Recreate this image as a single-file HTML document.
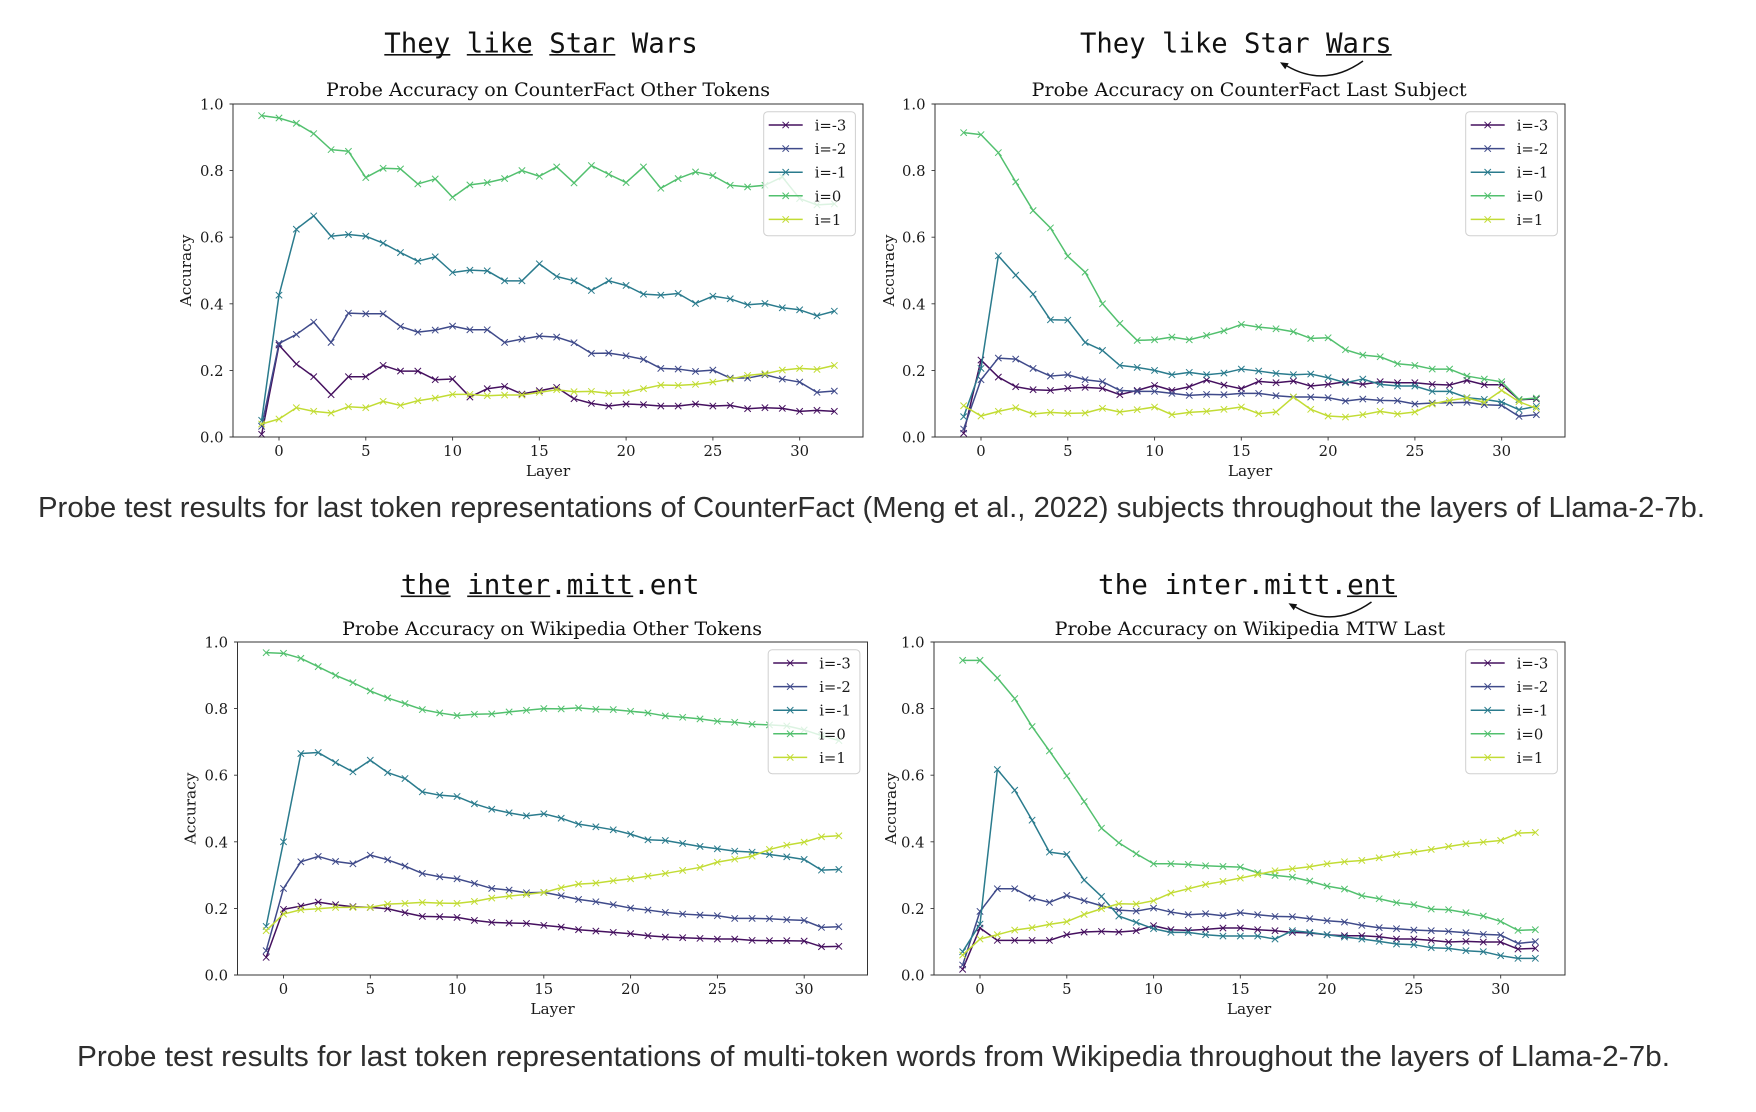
<!DOCTYPE html>
<html>
<head>
<meta charset="utf-8">
<style>
html,body{margin:0;padding:0;background:#fff;}
svg{display:block;}
.tk{font-family:"DejaVu Serif","Liberation Serif",serif;font-size:14.8px;fill:#1a1a1a;}
.lb{font-family:"DejaVu Serif","Liberation Serif",serif;font-size:15.3px;fill:#1a1a1a;}
.tt{font-family:"DejaVu Serif","Liberation Serif",serif;font-size:18.5px;fill:#111;}
.hd{font-family:"DejaVu Sans Mono","Liberation Mono",monospace;font-size:27.4px;fill:#111;}
.cap{font-family:"Liberation Sans","DejaVu Sans",sans-serif;font-size:29px;fill:#2e2e2e;}
.lg{font-family:"DejaVu Serif","Liberation Serif",serif;font-size:14.8px;fill:#1a1a1a;}
.s{fill:none;stroke-width:4.5;stroke-linejoin:round;}
</style>
</head>
<body>
<svg width="1756" height="1112" viewBox="0 0 1756 1112" xmlns="http://www.w3.org/2000/svg">
<defs>
<marker id="m0" markerUnits="userSpaceOnUse" markerWidth="30" markerHeight="30" overflow="visible" refX="0" refY="0"><path d="M-9.6,-9.6L9.6,9.6M-9.6,9.6L9.6,-9.6" stroke="#45105f" stroke-width="3" fill="none"/></marker>
<marker id="m1" markerUnits="userSpaceOnUse" markerWidth="30" markerHeight="30" overflow="visible" refX="0" refY="0"><path d="M-9.6,-9.6L9.6,9.6M-9.6,9.6L9.6,-9.6" stroke="#3f4a8a" stroke-width="3" fill="none"/></marker>
<marker id="m2" markerUnits="userSpaceOnUse" markerWidth="30" markerHeight="30" overflow="visible" refX="0" refY="0"><path d="M-9.6,-9.6L9.6,9.6M-9.6,9.6L9.6,-9.6" stroke="#2a7b8d" stroke-width="3" fill="none"/></marker>
<marker id="m3" markerUnits="userSpaceOnUse" markerWidth="30" markerHeight="30" overflow="visible" refX="0" refY="0"><path d="M-9.6,-9.6L9.6,9.6M-9.6,9.6L9.6,-9.6" stroke="#52c06e" stroke-width="3" fill="none"/></marker>
<marker id="m4" markerUnits="userSpaceOnUse" markerWidth="30" markerHeight="30" overflow="visible" refX="0" refY="0"><path d="M-9.6,-9.6L9.6,9.6M-9.6,9.6L9.6,-9.6" stroke="#c2dc34" stroke-width="3" fill="none"/></marker>
</defs>

<!-- ============ Headings ============ -->
<text class="hd" x="384.3" y="52.5" textLength="313.4" lengthAdjust="spacingAndGlyphs">They like Star Wars</text>
<rect x="384.3" y="54" width="66" height="1.6" fill="#111"/>
<rect x="466.8" y="54" width="66" height="1.6" fill="#111"/>
<rect x="549.3" y="54" width="66" height="1.6" fill="#111"/>

<text class="hd" x="1080" y="52.5" textLength="311.7" lengthAdjust="spacingAndGlyphs">They like Star Wars</text>
<rect x="1326" y="54" width="65.7" height="1.6" fill="#111"/>
<path d="M1363,61 Q1325,88 1287,66" fill="none" stroke="#111" stroke-width="1.5"/>
<path d="M1280,62.3 L1288.7,63.3 L1285.2,69.3 Z" fill="#111"/>

<text class="hd" x="400.8" y="594" textLength="298.7" lengthAdjust="spacingAndGlyphs">the inter.mitt.ent</text>
<rect x="400.8" y="595.5" width="49.8" height="1.6" fill="#111"/>
<rect x="467.2" y="595.5" width="83" height="1.6" fill="#111"/>
<rect x="566.8" y="595.5" width="66.4" height="1.6" fill="#111"/>

<text class="hd" x="1098" y="594" textLength="299" lengthAdjust="spacingAndGlyphs">the inter.mitt.ent</text>
<rect x="1347" y="595.5" width="50" height="1.6" fill="#111"/>
<path d="M1371.5,602 Q1333.5,629 1295.5,607" fill="none" stroke="#111" stroke-width="1.5"/>
<path d="M1288.5,603.3 L1297.2,604.3 L1293.7,610.3 Z" fill="#111"/>

<!-- ============ Captions ============ -->
<text class="cap" x="38" y="517" textLength="1667" lengthAdjust="spacingAndGlyphs">Probe test results for last token representations of CounterFact (Meng et al., 2022) subjects throughout the layers of Llama-2-7b.</text>
<text class="cap" x="77" y="1066" textLength="1593" lengthAdjust="spacingAndGlyphs">Probe test results for last token representations of multi-token words from Wikipedia throughout the layers of Llama-2-7b.</text>

<!-- ============ Chart TL ============ -->
<g transform="translate(233,104)">
<text class="tt" x="93" y="-8" textLength="444" lengthAdjust="spacingAndGlyphs">Probe Accuracy on CounterFact Other Tokens</text>
<g transform="translate(46,333) scale(0.333,-0.333)">
<polyline class="s" stroke="#45105f" marker-start="url(#m0)" marker-mid="url(#m0)" marker-end="url(#m0)" points="-52.1,8 0,276 52.1,219 104.2,181 156.4,127 208.5,181 260.6,181 312.7,215 364.8,198 416.9,198 469.1,172 521.2,174 573.3,120 625.4,145 677.5,152 729.6,129 781.8,139 833.9,149 886,115 938.1,101 990.2,93 1042.3,99 1094.5,97 1146.6,93 1198.7,93 1250.8,99 1302.9,93 1355,95 1407.2,85 1459.3,88 1511.4,86 1563.5,77 1615.6,80 1667.7,77"/>
<polyline class="s" stroke="#3f4a8a" marker-start="url(#m1)" marker-mid="url(#m1)" marker-end="url(#m1)" points="-52.1,32 0,281 52.1,308 104.2,345 156.4,284 208.5,372 260.6,370 312.7,370 364.8,332 416.9,315 469.1,321 521.2,333 573.3,322 625.4,322 677.5,284 729.6,294 781.8,303 833.9,300 886,283 938.1,251 990.2,252 1042.3,244 1094.5,233 1146.6,206 1198.7,204 1250.8,197 1302.9,201 1355,177 1407.2,177 1459.3,187 1511.4,174 1563.5,165 1615.6,134 1667.7,138"/>
<polyline class="s" stroke="#2a7b8d" marker-start="url(#m2)" marker-mid="url(#m2)" marker-end="url(#m2)" points="-52.1,50 0,426 52.1,624 104.2,664 156.4,603 208.5,608 260.6,603 312.7,582 364.8,554 416.9,528 469.1,541 521.2,494 573.3,501 625.4,499 677.5,469 729.6,469 781.8,520 833.9,482 886,469 938.1,440 990.2,469 1042.3,455 1094.5,429 1146.6,426 1198.7,431 1250.8,401 1302.9,423 1355,415 1407.2,397 1459.3,401 1511.4,388 1563.5,382 1615.6,364 1667.7,378"/>
<polyline class="s" stroke="#52c06e" marker-start="url(#m3)" marker-mid="url(#m3)" marker-end="url(#m3)" points="-52.1,965 0,958 52.1,942 104.2,911 156.4,863 208.5,858 260.6,779 312.7,807 364.8,805 416.9,760 469.1,775 521.2,720 573.3,757 625.4,764 677.5,776 729.6,800 781.8,783 833.9,811 886,763 938.1,815 990.2,789 1042.3,764 1094.5,811 1146.6,747 1198.7,776 1250.8,796 1302.9,785 1355,756 1407.2,751 1459.3,756 1511.4,781 1563.5,716 1615.6,697 1667.7,700"/>
<polyline class="s" stroke="#c2dc34" marker-start="url(#m4)" marker-mid="url(#m4)" marker-end="url(#m4)" points="-52.1,39 0,54 52.1,88 104.2,77 156.4,72 208.5,91 260.6,88 312.7,107 364.8,95 416.9,109 469.1,117 521.2,128 573.3,128 625.4,124 677.5,126 729.6,126 781.8,134 833.9,142 886,136 938.1,137 990.2,131 1042.3,133 1094.5,145 1146.6,156 1198.7,155 1250.8,158 1302.9,165 1355,174 1407.2,185 1459.3,190 1511.4,201 1563.5,206 1615.6,203 1667.7,215"/>
</g>
<rect x="0" y="0" width="630" height="333" fill="none" stroke="#333" stroke-width="1"/>
<g stroke="#333" stroke-width="0.9">
<path d="M-3.5,333H0M-3.5,266.4H0M-3.5,199.8H0M-3.5,133.2H0M-3.5,66.6H0M-3.5,0H0"/>
<path d="M46,333V336.5M132.8,333V336.5M219.6,333V336.5M306.3,333V336.5M393.1,333V336.5M479.9,333V336.5M566.7,333V336.5"/>
</g>
<g class="tk" text-anchor="end">
<text x="-9.5" y="338.5">0.0</text><text x="-9.5" y="271.9">0.2</text><text x="-9.5" y="205.3">0.4</text><text x="-9.5" y="138.7">0.6</text><text x="-9.5" y="72.1">0.8</text><text x="-9.5" y="5.5">1.0</text>
</g>
<g class="tk" text-anchor="middle">
<text x="46" y="352">0</text><text x="132.8" y="352">5</text><text x="219.6" y="352">10</text><text x="306.3" y="352">15</text><text x="393.1" y="352">20</text><text x="479.9" y="352">25</text><text x="566.7" y="352">30</text>
</g>
<text class="lb" x="315" y="372" text-anchor="middle">Layer</text>
<text class="lb" transform="translate(-42,166.5) rotate(-90)" text-anchor="middle">Accuracy</text>
<rect x="530.7" y="7.7" width="91.7" height="124" rx="4" fill="#fff" fill-opacity="0.8" stroke="#d0d0d0" stroke-width="1"/>
<g stroke-width="1.5">
<path d="M535.7,21H569.7" stroke="#45105f"/><path d="M549.5,17.8L555.9,24.2M549.5,24.2L555.9,17.8" stroke="#45105f" stroke-width="1"/>
<path d="M535.7,44.6H569.7" stroke="#3f4a8a"/><path d="M549.5,41.4L555.9,47.8M549.5,47.8L555.9,41.4" stroke="#3f4a8a" stroke-width="1"/>
<path d="M535.7,68.2H569.7" stroke="#2a7b8d"/><path d="M549.5,65L555.9,71.4M549.5,71.4L555.9,65" stroke="#2a7b8d" stroke-width="1"/>
<path d="M535.7,91.8H569.7" stroke="#52c06e"/><path d="M549.5,88.6L555.9,95M549.5,95L555.9,88.6" stroke="#52c06e" stroke-width="1"/>
<path d="M535.7,115.4H569.7" stroke="#c2dc34"/><path d="M549.5,112.2L555.9,118.6M549.5,118.6L555.9,112.2" stroke="#c2dc34" stroke-width="1"/>
</g>
<g class="lg">
<text x="581.7" y="26.5">i=-3</text><text x="581.7" y="50.1">i=-2</text><text x="581.7" y="73.7">i=-1</text><text x="581.7" y="97.3">i=0</text><text x="581.7" y="120.9">i=1</text>
</g>
</g>

<!-- ============ Chart TR ============ -->
<g transform="translate(935,104)">
<text class="tt" x="96.7" y="-8" textLength="435" lengthAdjust="spacingAndGlyphs">Probe Accuracy on CounterFact Last Subject</text>
<g transform="translate(46,333) scale(0.333,-0.333)">
<polyline class="s" stroke="#45105f" marker-start="url(#m0)" marker-mid="url(#m0)" marker-end="url(#m0)" points="-52.1,11 0,231 52.1,180 104.2,151 156.4,142 208.5,140 260.6,146 312.7,149 364.8,146 416.9,127 469.1,140 521.2,155 573.3,140 625.4,151 677.5,171 729.6,156 781.8,145 833.9,167 886,163 938.1,168 990.2,153 1042.3,158 1094.5,166 1146.6,158 1198.7,166 1250.8,163 1302.9,163 1355,158 1407.2,156 1459.3,170 1511.4,157 1563.5,157 1615.6,112 1667.7,114"/>
<polyline class="s" stroke="#3f4a8a" marker-start="url(#m1)" marker-mid="url(#m1)" marker-end="url(#m1)" points="-52.1,24 0,172 52.1,237 104.2,234 156.4,206 208.5,183 260.6,187 312.7,172 364.8,166 416.9,140 469.1,137 521.2,137 573.3,131 625.4,125 677.5,128 729.6,127 781.8,131 833.9,131 886,124 938.1,120 990.2,120 1042.3,118 1094.5,108 1146.6,114 1198.7,110 1250.8,109 1302.9,99 1355,102 1407.2,103 1459.3,104 1511.4,97 1563.5,95 1615.6,62 1667.7,67"/>
<polyline class="s" stroke="#2a7b8d" marker-start="url(#m2)" marker-mid="url(#m2)" marker-end="url(#m2)" points="-52.1,61 0,206 52.1,544 104.2,486 156.4,429 208.5,352 260.6,351 312.7,284 364.8,260 416.9,215 469.1,209 521.2,200 573.3,187 625.4,194 677.5,187 729.6,192 781.8,204 833.9,198 886,191 938.1,187 990.2,189 1042.3,178 1094.5,163 1146.6,174 1198.7,158 1250.8,153 1302.9,153 1355,137 1407.2,137 1459.3,118 1511.4,113 1563.5,105 1615.6,82 1667.7,92"/>
<polyline class="s" stroke="#52c06e" marker-start="url(#m3)" marker-mid="url(#m3)" marker-end="url(#m3)" points="-52.1,914 0,908 52.1,854 104.2,766 156.4,680 208.5,628 260.6,543 312.7,495 364.8,400 416.9,341 469.1,290 521.2,292 573.3,300 625.4,292 677.5,305 729.6,319 781.8,338 833.9,330 886,325 938.1,316 990.2,296 1042.3,298 1094.5,262 1146.6,246 1198.7,241 1250.8,220 1302.9,215 1355,204 1407.2,204 1459.3,183 1511.4,174 1563.5,166 1615.6,113 1667.7,117"/>
<polyline class="s" stroke="#c2dc34" marker-start="url(#m4)" marker-mid="url(#m4)" marker-end="url(#m4)" points="-52.1,94 0,63 52.1,77 104.2,88 156.4,69 208.5,74 260.6,71 312.7,72 364.8,86 416.9,75 469.1,82 521.2,90 573.3,67 625.4,74 677.5,77 729.6,83 781.8,90 833.9,70 886,75 938.1,120 990.2,83 1042.3,63 1094.5,60 1146.6,67 1198.7,77 1250.8,69 1302.9,75 1355,99 1407.2,110 1459.3,117 1511.4,104 1563.5,140 1615.6,106 1667.7,86"/>
</g>
<rect x="0" y="0" width="630" height="333" fill="none" stroke="#333" stroke-width="1"/>
<g stroke="#333" stroke-width="0.9">
<path d="M-3.5,333H0M-3.5,266.4H0M-3.5,199.8H0M-3.5,133.2H0M-3.5,66.6H0M-3.5,0H0"/>
<path d="M46,333V336.5M132.8,333V336.5M219.6,333V336.5M306.3,333V336.5M393.1,333V336.5M479.9,333V336.5M566.7,333V336.5"/>
</g>
<g class="tk" text-anchor="end">
<text x="-9.5" y="338.5">0.0</text><text x="-9.5" y="271.9">0.2</text><text x="-9.5" y="205.3">0.4</text><text x="-9.5" y="138.7">0.6</text><text x="-9.5" y="72.1">0.8</text><text x="-9.5" y="5.5">1.0</text>
</g>
<g class="tk" text-anchor="middle">
<text x="46" y="352">0</text><text x="132.8" y="352">5</text><text x="219.6" y="352">10</text><text x="306.3" y="352">15</text><text x="393.1" y="352">20</text><text x="479.9" y="352">25</text><text x="566.7" y="352">30</text>
</g>
<text class="lb" x="315" y="372" text-anchor="middle">Layer</text>
<text class="lb" transform="translate(-41,166.5) rotate(-90)" text-anchor="middle">Accuracy</text>
<rect x="530.7" y="7.7" width="91.7" height="124" rx="4" fill="#fff" fill-opacity="0.8" stroke="#d0d0d0" stroke-width="1"/>
<g stroke-width="1.5">
<path d="M535.7,21H569.7" stroke="#45105f"/><path d="M549.5,17.8L555.9,24.2M549.5,24.2L555.9,17.8" stroke="#45105f" stroke-width="1"/>
<path d="M535.7,44.6H569.7" stroke="#3f4a8a"/><path d="M549.5,41.4L555.9,47.8M549.5,47.8L555.9,41.4" stroke="#3f4a8a" stroke-width="1"/>
<path d="M535.7,68.2H569.7" stroke="#2a7b8d"/><path d="M549.5,65L555.9,71.4M549.5,71.4L555.9,65" stroke="#2a7b8d" stroke-width="1"/>
<path d="M535.7,91.8H569.7" stroke="#52c06e"/><path d="M549.5,88.6L555.9,95M549.5,95L555.9,88.6" stroke="#52c06e" stroke-width="1"/>
<path d="M535.7,115.4H569.7" stroke="#c2dc34"/><path d="M549.5,112.2L555.9,118.6M549.5,118.6L555.9,112.2" stroke="#c2dc34" stroke-width="1"/>
</g>
<g class="lg">
<text x="581.7" y="26.5">i=-3</text><text x="581.7" y="50.1">i=-2</text><text x="581.7" y="73.7">i=-1</text><text x="581.7" y="97.3">i=0</text><text x="581.7" y="120.9">i=1</text>
</g>
</g>

<!-- ============ Chart BL ============ -->
<g transform="translate(237.5,642)">
<text class="tt" x="104.6" y="-7" textLength="420" lengthAdjust="spacingAndGlyphs">Probe Accuracy on Wikipedia Other Tokens</text>
<g transform="translate(46,333) scale(0.333,-0.333)">
<polyline class="s" stroke="#45105f" marker-start="url(#m0)" marker-mid="url(#m0)" marker-end="url(#m0)" points="-52.1,53 0,197 52.1,207 104.2,219 156.4,211 208.5,205 260.6,203 312.7,199 364.8,187 416.9,176 469.1,175 521.2,173 573.3,164 625.4,158 677.5,156 729.6,155 781.8,149 833.9,144 886,136 938.1,132 990.2,128 1042.3,124 1094.5,118 1146.6,114 1198.7,112 1250.8,110 1302.9,108 1355,108 1407.2,104 1459.3,103 1511.4,103 1563.5,102 1615.6,85 1667.7,86"/>
<polyline class="s" stroke="#3f4a8a" marker-start="url(#m1)" marker-mid="url(#m1)" marker-end="url(#m1)" points="-52.1,73 0,260 52.1,340 104.2,356 156.4,341 208.5,334 260.6,360 312.7,346 364.8,327 416.9,305 469.1,295 521.2,289 573.3,275 625.4,260 677.5,255 729.6,247 781.8,248 833.9,238 886,227 938.1,220 990.2,211 1042.3,201 1094.5,195 1146.6,188 1198.7,183 1250.8,180 1302.9,178 1355,170 1407.2,170 1459.3,169 1511.4,166 1563.5,164 1615.6,143 1667.7,145"/>
<polyline class="s" stroke="#2a7b8d" marker-start="url(#m2)" marker-mid="url(#m2)" marker-end="url(#m2)" points="-52.1,146 0,400 52.1,665 104.2,668 156.4,638 208.5,610 260.6,645 312.7,608 364.8,590 416.9,550 469.1,540 521.2,536 573.3,514 625.4,498 677.5,487 729.6,478 781.8,484 833.9,471 886,453 938.1,445 990.2,436 1042.3,423 1094.5,406 1146.6,404 1198.7,395 1250.8,386 1302.9,379 1355,372 1407.2,369 1459.3,362 1511.4,355 1563.5,347 1615.6,315 1667.7,317"/>
<polyline class="s" stroke="#52c06e" marker-start="url(#m3)" marker-mid="url(#m3)" marker-end="url(#m3)" points="-52.1,968 0,966 52.1,951 104.2,926 156.4,900 208.5,878 260.6,853 312.7,832 364.8,815 416.9,797 469.1,787 521.2,779 573.3,783 625.4,784 677.5,790 729.6,795 781.8,800 833.9,799 886,802 938.1,798 990.2,797 1042.3,792 1094.5,787 1146.6,778 1198.7,774 1250.8,769 1302.9,762 1355,759 1407.2,753 1459.3,751 1511.4,748 1563.5,736 1615.6,719 1667.7,704"/>
<polyline class="s" stroke="#c2dc34" marker-start="url(#m4)" marker-mid="url(#m4)" marker-end="url(#m4)" points="-52.1,133 0,183 52.1,196 104.2,199 156.4,203 208.5,203 260.6,203 312.7,213 364.8,215 416.9,218 469.1,216 521.2,215 573.3,221 625.4,231 677.5,237 729.6,242 781.8,248 833.9,262 886,273 938.1,276 990.2,283 1042.3,289 1094.5,297 1146.6,305 1198.7,314 1250.8,323 1302.9,339 1355,348 1407.2,357 1459.3,377 1511.4,390 1563.5,399 1615.6,415 1667.7,418"/>
</g>
<rect x="0" y="0" width="630" height="333" fill="none" stroke="#333" stroke-width="1"/>
<g stroke="#333" stroke-width="0.9">
<path d="M-3.5,333H0M-3.5,266.4H0M-3.5,199.8H0M-3.5,133.2H0M-3.5,66.6H0M-3.5,0H0"/>
<path d="M46,333V336.5M132.8,333V336.5M219.6,333V336.5M306.3,333V336.5M393.1,333V336.5M479.9,333V336.5M566.7,333V336.5"/>
</g>
<g class="tk" text-anchor="end">
<text x="-9.5" y="338.5">0.0</text><text x="-9.5" y="271.9">0.2</text><text x="-9.5" y="205.3">0.4</text><text x="-9.5" y="138.7">0.6</text><text x="-9.5" y="72.1">0.8</text><text x="-9.5" y="5.5">1.0</text>
</g>
<g class="tk" text-anchor="middle">
<text x="46" y="352">0</text><text x="132.8" y="352">5</text><text x="219.6" y="352">10</text><text x="306.3" y="352">15</text><text x="393.1" y="352">20</text><text x="479.9" y="352">25</text><text x="566.7" y="352">30</text>
</g>
<text class="lb" x="315" y="372" text-anchor="middle">Layer</text>
<text class="lb" transform="translate(-42,166.5) rotate(-90)" text-anchor="middle">Accuracy</text>
<rect x="530.7" y="7.7" width="91.7" height="124" rx="4" fill="#fff" fill-opacity="0.8" stroke="#d0d0d0" stroke-width="1"/>
<g stroke-width="1.5">
<path d="M535.7,21H569.7" stroke="#45105f"/><path d="M549.5,17.8L555.9,24.2M549.5,24.2L555.9,17.8" stroke="#45105f" stroke-width="1"/>
<path d="M535.7,44.6H569.7" stroke="#3f4a8a"/><path d="M549.5,41.4L555.9,47.8M549.5,47.8L555.9,41.4" stroke="#3f4a8a" stroke-width="1"/>
<path d="M535.7,68.2H569.7" stroke="#2a7b8d"/><path d="M549.5,65L555.9,71.4M549.5,71.4L555.9,65" stroke="#2a7b8d" stroke-width="1"/>
<path d="M535.7,91.8H569.7" stroke="#52c06e"/><path d="M549.5,88.6L555.9,95M549.5,95L555.9,88.6" stroke="#52c06e" stroke-width="1"/>
<path d="M535.7,115.4H569.7" stroke="#c2dc34"/><path d="M549.5,112.2L555.9,118.6M549.5,118.6L555.9,112.2" stroke="#c2dc34" stroke-width="1"/>
</g>
<g class="lg">
<text x="581.7" y="26.5">i=-3</text><text x="581.7" y="50.1">i=-2</text><text x="581.7" y="73.7">i=-1</text><text x="581.7" y="97.3">i=0</text><text x="581.7" y="120.9">i=1</text>
</g>
</g>

<!-- ============ Chart BR ============ -->
<g transform="translate(934,642)">
<text class="tt" x="120.7" y="-7" textLength="390.5" lengthAdjust="spacingAndGlyphs">Probe Accuracy on Wikipedia MTW Last</text>
<g transform="translate(46,333) scale(0.333,-0.333)">
<polyline class="s" stroke="#45105f" marker-start="url(#m0)" marker-mid="url(#m0)" marker-end="url(#m0)" points="-52.1,17 0,141 52.1,104 104.2,104 156.4,104 208.5,104 260.6,121 312.7,129 364.8,131 416.9,129 469.1,133 521.2,148 573.3,136 625.4,134 677.5,137 729.6,141 781.8,141 833.9,136 886,133 938.1,128 990.2,126 1042.3,121 1094.5,118 1146.6,118 1198.7,115 1250.8,108 1302.9,108 1355,104 1407.2,99 1459.3,101 1511.4,99 1563.5,99 1615.6,78 1667.7,80"/>
<polyline class="s" stroke="#3f4a8a" marker-start="url(#m1)" marker-mid="url(#m1)" marker-end="url(#m1)" points="-52.1,30 0,191 52.1,259 104.2,259 156.4,231 208.5,218 260.6,239 312.7,223 364.8,208 416.9,195 469.1,192 521.2,201 573.3,189 625.4,181 677.5,184 729.6,178 781.8,187 833.9,181 886,176 938.1,175 990.2,169 1042.3,163 1094.5,159 1146.6,149 1198.7,142 1250.8,139 1302.9,135 1355,133 1407.2,131 1459.3,127 1511.4,122 1563.5,120 1615.6,95 1667.7,100"/>
<polyline class="s" stroke="#2a7b8d" marker-start="url(#m2)" marker-mid="url(#m2)" marker-end="url(#m2)" points="-52.1,70 0,153 52.1,617 104.2,555 156.4,465 208.5,369 260.6,362 312.7,285 364.8,236 416.9,177 469.1,158 521.2,139 573.3,128 625.4,128 677.5,121 729.6,117 781.8,117 833.9,117 886,108 938.1,133 990.2,128 1042.3,121 1094.5,114 1146.6,108 1198.7,101 1250.8,93 1302.9,91 1355,82 1407.2,80 1459.3,73 1511.4,70 1563.5,58 1615.6,50 1667.7,50"/>
<polyline class="s" stroke="#52c06e" marker-start="url(#m3)" marker-mid="url(#m3)" marker-end="url(#m3)" points="-52.1,945 0,945 52.1,892 104.2,830 156.4,746 208.5,673 260.6,598 312.7,521 364.8,441 416.9,397 469.1,364 521.2,334 573.3,334 625.4,332 677.5,328 729.6,326 781.8,324 833.9,307 886,299 938.1,294 990.2,282 1042.3,267 1094.5,258 1146.6,238 1198.7,229 1250.8,217 1302.9,211 1355,198 1407.2,196 1459.3,187 1511.4,177 1563.5,161 1615.6,134 1667.7,136"/>
<polyline class="s" stroke="#c2dc34" marker-start="url(#m4)" marker-mid="url(#m4)" marker-end="url(#m4)" points="-52.1,60 0,108 52.1,121 104.2,135 156.4,142 208.5,152 260.6,160 312.7,182 364.8,199 416.9,214 469.1,213 521.2,223 573.3,246 625.4,259 677.5,272 729.6,281 781.8,291 833.9,302 886,313 938.1,319 990.2,325 1042.3,334 1094.5,340 1146.6,344 1198.7,352 1250.8,362 1302.9,369 1355,377 1407.2,386 1459.3,394 1511.4,399 1563.5,404 1615.6,426 1667.7,428"/>
</g>
<rect x="0" y="0" width="631" height="333" fill="none" stroke="#333" stroke-width="1"/>
<g stroke="#333" stroke-width="0.9">
<path d="M-3.5,333H0M-3.5,266.4H0M-3.5,199.8H0M-3.5,133.2H0M-3.5,66.6H0M-3.5,0H0"/>
<path d="M46,333V336.5M132.8,333V336.5M219.6,333V336.5M306.3,333V336.5M393.1,333V336.5M479.9,333V336.5M566.7,333V336.5"/>
</g>
<g class="tk" text-anchor="end">
<text x="-9.5" y="338.5">0.0</text><text x="-9.5" y="271.9">0.2</text><text x="-9.5" y="205.3">0.4</text><text x="-9.5" y="138.7">0.6</text><text x="-9.5" y="72.1">0.8</text><text x="-9.5" y="5.5">1.0</text>
</g>
<g class="tk" text-anchor="middle">
<text x="46" y="352">0</text><text x="132.8" y="352">5</text><text x="219.6" y="352">10</text><text x="306.3" y="352">15</text><text x="393.1" y="352">20</text><text x="479.9" y="352">25</text><text x="566.7" y="352">30</text>
</g>
<text class="lb" x="315" y="372" text-anchor="middle">Layer</text>
<text class="lb" transform="translate(-38,166.5) rotate(-90)" text-anchor="middle">Accuracy</text>
<rect x="531.7" y="7.7" width="91.7" height="124" rx="4" fill="#fff" fill-opacity="0.8" stroke="#d0d0d0" stroke-width="1"/>
<g stroke-width="1.5">
<path d="M536.7,21H570.7" stroke="#45105f"/><path d="M550.5,17.8L556.9,24.2M550.5,24.2L556.9,17.8" stroke="#45105f" stroke-width="1"/>
<path d="M536.7,44.6H570.7" stroke="#3f4a8a"/><path d="M550.5,41.4L556.9,47.8M550.5,47.8L556.9,41.4" stroke="#3f4a8a" stroke-width="1"/>
<path d="M536.7,68.2H570.7" stroke="#2a7b8d"/><path d="M550.5,65L556.9,71.4M550.5,71.4L556.9,65" stroke="#2a7b8d" stroke-width="1"/>
<path d="M536.7,91.8H570.7" stroke="#52c06e"/><path d="M550.5,88.6L556.9,95M550.5,95L556.9,88.6" stroke="#52c06e" stroke-width="1"/>
<path d="M536.7,115.4H570.7" stroke="#c2dc34"/><path d="M550.5,112.2L556.9,118.6M550.5,118.6L556.9,112.2" stroke="#c2dc34" stroke-width="1"/>
</g>
<g class="lg">
<text x="582.7" y="26.5">i=-3</text><text x="582.7" y="50.1">i=-2</text><text x="582.7" y="73.7">i=-1</text><text x="582.7" y="97.3">i=0</text><text x="582.7" y="120.9">i=1</text>
</g>
</g>
</svg>
</body>
</html>
